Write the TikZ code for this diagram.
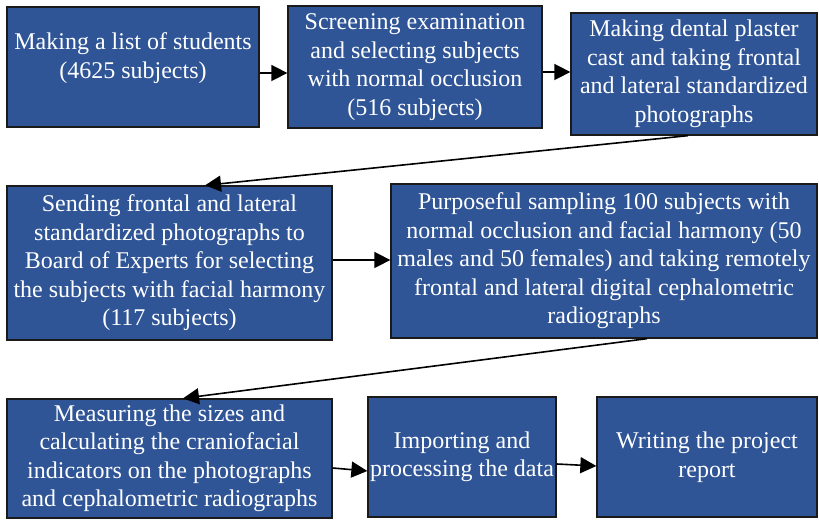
\documentclass[tikz,border=0pt]{standalone}
\usepackage{fontspec}
\setmainfont{Liberation Serif}
\newfontfamily\boxfont{Liberation Serif}
\usetikzlibrary{arrows.meta}
\definecolor{boxblue}{HTML}{2F5597}
\definecolor{boxedge}{HTML}{1A1A1A}
\tikzset{
  stepbox/.style={draw=boxedge, line width=1.3pt, fill=boxblue, text=white,
    align=center, inner sep=1pt, font=\boxfont\fontsize{24}{28.5}\selectfont},
  flow/.style={line width=1.6pt, -{Triangle[length=16pt,width=16pt]}}
}
\begin{document}
\begin{tikzpicture}[x=1pt,y=1pt]
\useasboundingbox (0,0) rectangle (819,520);
% y = 520 - pixel row
\node[stepbox, minimum width=252, minimum height=120,
  label={[yshift=9pt, text=white, align=center, font=\boxfont\fontsize{24}{28.5}\selectfont]center:Making a list of students\\(4625 subjects)}]
  (A) at (133,453) {};
\node[stepbox, minimum width=254, minimum height=122] (B) at (415,453)
  {Screening examination\\and selecting subjects\\with normal occlusion\\(516 subjects)};
\node[stepbox, minimum width=246, minimum height=122] (C) at (694,446)
  {Making dental plaster\\cast and taking frontal\\and lateral standardized\\photographs};
\node[stepbox, minimum width=325, minimum height=154] (D) at (169.5,257)
  {Sending frontal and lateral\\standardized photographs to\\Board of Experts for selecting\\the subjects with facial harmony\\(117 subjects)};
\node[stepbox, minimum width=426, minimum height=154] (E) at (604,259)
  {Purposeful sampling 100 subjects with\\normal occlusion and facial harmony (50\\males and 50 females) and taking remotely\\frontal and lateral digital cephalometric\\radiographs};
\node[stepbox, minimum width=325, minimum height=119] (F) at (169.5,61.5)
  {Measuring the sizes and\\calculating the craniofacial\\indicators on the photographs\\and cephalometric radiographs};
\node[stepbox, minimum width=188, minimum height=120] (G) at (462,63)
  {Importing and\\processing the data};
\node[stepbox, minimum width=220, minimum height=120] (H) at (707,63)
  {Writing the project\\report};

\draw[flow] ([yshift=-6pt]A.east) -- ([yshift=-6pt]B.west);
\draw[flow] ([yshift=-5pt]B.east) -- ([yshift=2pt]C.west);
\draw[flow] ([xshift=-6pt]C.south) -- ([xshift=35.5pt]D.north);
\draw[flow] ([yshift=3pt]D.east) -- ([yshift=1pt]E.west);
\draw[flow] ([xshift=43pt]E.south) -- ([xshift=13.5pt]F.north);
\draw[flow] ([yshift=-9.5pt]F.east) -- ([yshift=-14pt]G.west);
\draw[flow] ([yshift=-7pt]G.east) -- ([yshift=-9pt]H.west);
\end{tikzpicture}
\end{document}
